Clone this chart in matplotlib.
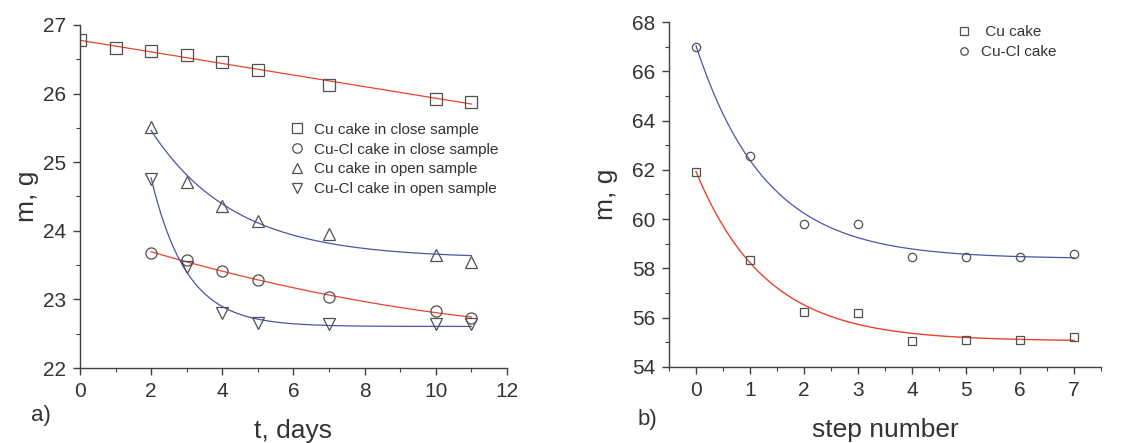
import numpy as np
import matplotlib
matplotlib.use("Agg")
from matplotlib import pyplot as plt
from matplotlib.ticker import MultipleLocator

plt.rcParams['font.family'] = ['Liberation Sans', 'DejaVu Sans']

# panel a) data
t_close = [0, 1, 2, 3, 4, 5, 7, 10, 11]
cu_close = [26.78, 26.66, 26.62, 26.56, 26.46, 26.35, 26.13, 25.92, 25.88]
t_open = [2, 3, 4, 5, 7, 10, 11]
cucl_close = [23.67, 23.58, 23.42, 23.28, 23.04, 22.83, 22.73]
cu_open = [25.52, 24.71, 24.36, 24.15, 23.96, 23.65, 23.55]
cucl_open = [24.76, 23.47, 22.80, 22.66, 22.64, 22.64, 22.64]

# panel b) data
steps = [0, 1, 2, 3, 4, 5, 6, 7]
cu_cake = [61.9, 58.35, 56.25, 56.2, 55.05, 55.1, 55.1, 55.22]
cucl_cake = [67.0, 62.57, 59.8, 59.82, 58.47, 58.47, 58.45, 58.6]

RED = '#e8432e'
BLUE = '#4a55a8'
EDGE = '#505050'
TXT = '#333333'


def exp_fit(x, y, xs):
    # y = A + B*exp(-(x-x0)/tau), tau by grid search, A/B by least squares
    x = np.asarray(x, float)
    y = np.asarray(y, float)
    x0 = x[0]
    best = None
    for tau in np.linspace(0.2, 30, 600):
        M = np.column_stack([np.ones_like(x), np.exp(-(x - x0) / tau)])
        coef, *_ = np.linalg.lstsq(M, y, rcond=None)
        err = np.sum((M @ coef - y) ** 2)
        if best is None or err < best[0]:
            best = (err, tau, coef)
    _, tau, coef = best
    return coef[0] + coef[1] * np.exp(-(xs - x0) / tau)


fig = plt.figure(figsize=(11.34, 4.43), dpi=100)
ax1 = fig.add_axes([0.0705, 0.1693, 0.3765, 0.7743])
ax2 = fig.add_axes([0.590, 0.1716, 0.381, 0.7787])

mk = dict(linestyle='none', markerfacecolor='none', markeredgecolor=EDGE,
          markeredgewidth=0.9)

# panel a
xs = np.linspace(0, 11, 200)
p = np.polyfit(t_close, cu_close, 1)
ax1.plot(xs, np.polyval(p, xs), color=RED, lw=0.9)
xo = np.linspace(2, 11, 200)
p2 = np.polyfit(t_open, cucl_close, 2)
ax1.plot(xo, np.polyval(p2, xo), color=RED, lw=0.9)
ax1.plot(xo, exp_fit(t_open, cu_open, xo), color=BLUE, lw=0.9)
ax1.plot(xo, exp_fit(t_open, cucl_open, xo), color=BLUE, lw=0.9)

ax1.plot(t_close, cu_close, marker='s', ms=8, label='Cu cake in close sample', **mk)
ax1.plot(t_open, cucl_close, marker='o', ms=8, label='Cu-Cl cake in close sample', **mk)
ax1.plot(t_open, cu_open, marker='^', ms=9, label='Cu cake in open sample', **mk)
ax1.plot(t_open, cucl_open, marker='v', ms=9, label='Cu-Cl cake in open sample', **mk)

ax1.set_xlim(0, 12)
ax1.set_ylim(22, 27)
ax1.xaxis.set_major_locator(MultipleLocator(2))
ax1.xaxis.set_minor_locator(MultipleLocator(1))
ax1.yaxis.set_major_locator(MultipleLocator(1))
ax1.yaxis.set_minor_locator(MultipleLocator(0.5))
ax1.legend(loc='upper left', bbox_to_anchor=(0.49, 0.715), frameon=False,
           fontsize=11, handlelength=1.0, handletextpad=0.6, markerscale=0.85,
           labelspacing=0.38, borderaxespad=0, borderpad=0, labelcolor=TXT)
ax1.set_xlabel('t, days', fontsize=19, color=TXT, labelpad=13)
ax1.set_ylabel('m, g', fontsize=19, color=TXT, labelpad=3)
fig.text(0.027, 0.05, 'a)', fontsize=16, color=TXT)

# panel b
xb = np.linspace(0, 7, 200)
ax2.plot(xb, exp_fit(steps, cucl_cake, xb), color=BLUE, lw=0.9)
ax2.plot(xb, exp_fit(steps, cu_cake, xb), color=RED, lw=1.0)
ax2.plot(steps, cu_cake, marker='s', ms=6, label=' Cu cake', **mk)
ax2.plot(steps, cucl_cake, marker='o', ms=6, label='Cu-Cl cake', **mk)

ax2.set_xlim(-0.5, 7.5)
ax2.set_ylim(54, 68)
ax2.xaxis.set_major_locator(MultipleLocator(1))
ax2.xaxis.set_minor_locator(MultipleLocator(0.5))
ax2.yaxis.set_major_locator(MultipleLocator(2))
ax2.yaxis.set_minor_locator(MultipleLocator(1))
ax2.legend(loc='upper left', bbox_to_anchor=(0.665, 0.99), frameon=False,
           fontsize=11, handlelength=1.0, handletextpad=0.6, markerscale=0.9,
           labelspacing=0.38, borderaxespad=0, borderpad=0, labelcolor=TXT)
ax2.set_xlabel('step number', fontsize=19, color=TXT, labelpad=13)
ax2.set_ylabel('m, g', fontsize=19, color=TXT, labelpad=10)
fig.text(0.562, 0.04, 'b)', fontsize=16, color=TXT)

for ax in (ax1, ax2):
    ax.spines['top'].set_visible(False)
    ax.spines['right'].set_visible(False)
    for s in ('left', 'bottom'):
        ax.spines[s].set_color('#404040')
        ax.spines[s].set_linewidth(1.0)
    ax.tick_params(which='major', direction='out', length=5, width=1, pad=5,
                   color='#404040', labelsize=15, labelcolor=TXT)
    ax.tick_params(which='minor', direction='out', length=3, width=0.8,
                   color='#404040')

fig.savefig('out.png', dpi=100)
